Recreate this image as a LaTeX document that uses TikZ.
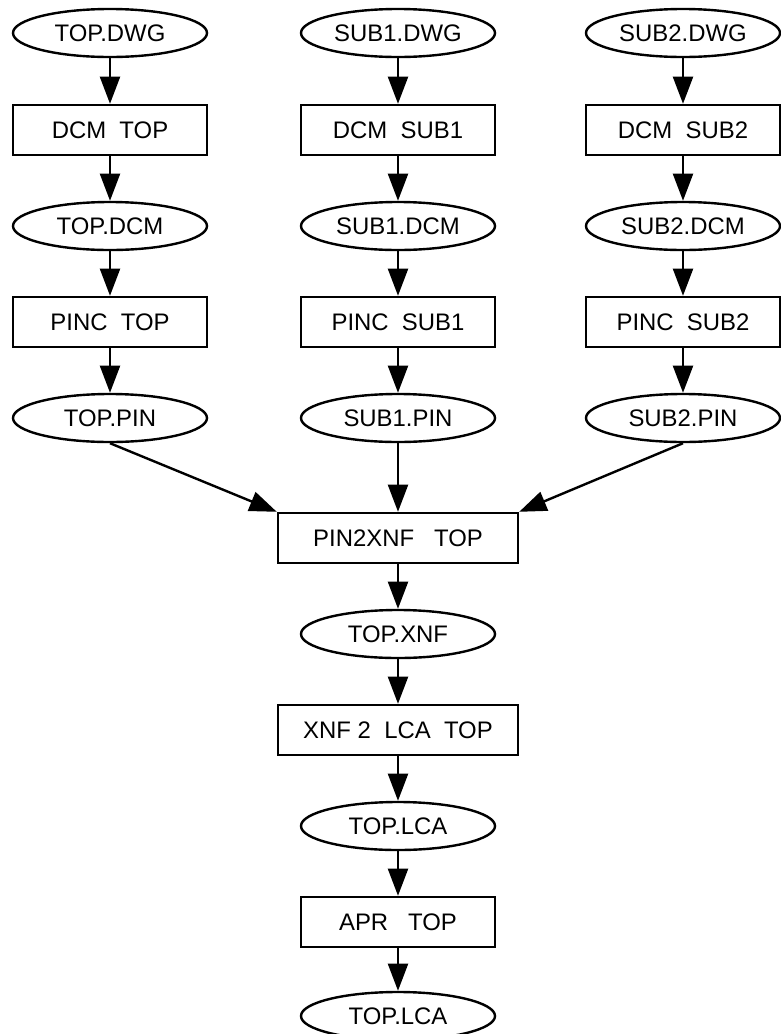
\documentclass[tikz,border=0pt]{standalone}
\usepackage{fontspec}
\setmainfont{Liberation Sans}
\usetikzlibrary{shapes.geometric, arrows.meta}

\begin{document}
\begin{tikzpicture}
            [x=0.025cm, y=-0.025cm, font=\fontsize{17}{19}\selectfont, line width=0.6mm,
             file/.style={draw, shape=ellipse, inner sep=0, minimum width=4.85cm, minimum height=1.2cm},
             prog/.style={draw, shape=rectangle, inner sep=0, minimum width=4.85cm, minimum height=1.25cm},
             >={Triangle[length=0.68cm, width=0.5cm]}]

            \useasboundingbox (0, 0) rectangle (781, 1034);

            \node[file] (v1) at (110, 33) {TOP.DWG};
            \node[file] (v2) at (398, 33) {SUB1.DWG};
            \node[file] (v3) at (683, 33) {SUB2.DWG};
            \node[prog] (v4) at (110, 130) {DCM\ \ TOP};
            \node[prog] (v5) at (398, 130) {DCM\ \ SUB1};
            \node[prog] (v6) at (683, 130) {DCM\ \ SUB2};
            \node[file] (v7) at (110, 226) {TOP.DCM};
            \node[file] (v8) at (398, 226) {SUB1.DCM};
            \node[file] (v9) at (683, 226) {SUB2.DCM};
            \node[prog] (v10) at (110, 322) {PINC\ \ TOP};
            \node[prog] (v11) at (398, 322) {PINC\ \ SUB1};
            \node[prog] (v12) at (683, 322) {PINC\ \ SUB2};
            \node[file] (v13) at (110, 418) {TOP.PIN};
            \node[file] (v14) at (398, 418) {SUB1.PIN};
            \node[file] (v15) at (683, 418) {SUB2.PIN};
            \node[prog, minimum width=6cm] (v16) at (398, 538) {PIN2XNF\ \ \ TOP};
            \node[file] (v17) at (398, 634) {TOP.XNF};
            \node[prog, minimum width=6cm] (v18) at (398, 730) {XNF 2\ \ LCA\ \ TOP};
            \node[file] (v19) at (398, 826) {TOP.LCA};
            \node[prog] (v20) at (398, 922) {APR\ \ \ TOP};
            \node[file] (v21) at (398, 1016) {TOP.LCA};

            \draw[->] (v1) -- (v4);
            \draw[->] (v2) -- (v5);
            \draw[->] (v3) -- (v6);
            \draw[->] (v4) -- (v7);
            \draw[->] (v5) -- (v8);
            \draw[->] (v6) -- (v9);
            \draw[->] (v7) -- (v10);
            \draw[->] (v8) -- (v11);
            \draw[->] (v9) -- (v12);
            \draw[->] (v10) -- (v13);
            \draw[->] (v11) -- (v14);
            \draw[->] (v12) -- (v15);
            \draw[->] (v13.south) -- (v16.north west);
            \draw[->] (v14) -- (v16);
            \draw[->] (v15.south) -- (v16.north east);
            \draw[->] (v16) -- (v17);
            \draw[->] (v17) -- (v18);
            \draw[->] (v18) -- (v19);
            \draw[->] (v19) -- (v20);
            \draw[->] (v20) -- (v21);
          \end{tikzpicture}
\end{document}
